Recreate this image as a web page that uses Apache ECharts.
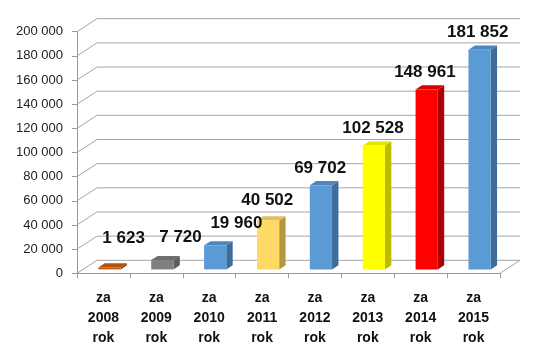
<!DOCTYPE html>
<html>
<head>
<meta charset="utf-8">
<script src="https://cdn.jsdelivr.net/npm/echarts@6/dist/echarts.min.js"></script>
<style>html,body{margin:0;padding:0;background:#fff;}#c{width:544px;height:353px;}</style>
</head>
<body>
<div id="c"></div>
<script>
// ---- data ----
var categories = ['za\n2008\nrok', 'za\n2009\nrok', 'za\n2010\nrok', 'za\n2011\nrok',
                  'za\n2012\nrok', 'za\n2013\nrok', 'za\n2014\nrok', 'za\n2015\nrok'];
var values = [1623, 7720, 19960, 40502, 69702, 102528, 148961, 181852];
var yTicks = [0, 20000, 40000, 60000, 80000, 100000, 120000, 140000, 160000, 180000, 200000];

// ---- styling ----
var faceColors = [
  {front: '#C55A11', side: '#8E400C', top: '#B5520F'},
  {front: '#7F7F7F', side: '#5E5E5E', top: '#6E6E6E'},
  {front: '#5B9BD5', side: '#3E6D9C', top: '#4F86C0'},
  {front: '#FFD966', side: '#B8963F', top: '#E3C056'},
  {front: '#5B9BD5', side: '#3E6D9C', top: '#4F86C0'},
  {front: '#FFFF00', side: '#BDBD00', top: '#E3E300'},
  {front: '#FF0000', side: '#AE0000', top: '#DD0000'},
  {front: '#5B9BD5', side: '#3E6D9C', top: '#4F86C0'}
];
// manual label nudges (dx, dy) as in the original
var labelNudge = [[14, -12], [18, -6], [21, -5], [-1, -3], [-1, 0], [-1, 0], [-2, 0], [-2, 0]];
var DX = 20, DY = -13;       // depth of the 3D box
var F0 = 0.3, F1 = 0.62;     // depth range occupied by bars
var BARW = 0.42;             // bar width as fraction of band

function fmt(v) { return String(v).replace(/\B(?=(\d{3})+(?!\d))/g, ' '); }

function barGeom(api) {
  var i = api.value(0), v = api.value(1);
  var bw = api.size([1, 0])[0];
  var base = api.coord([i, 0]);
  var top = api.coord([i, v]);
  var w = bw * BARW;
  var xl = base[0] - w / 2 + F0 * DX;
  return {
    i: i, v: v, w: w, xl: xl, xr: xl + w,
    yb: base[1] + F0 * DY, yt: top[1] + F0 * DY,
    ddx: (F1 - F0) * DX, ddy: (F1 - F0) * DY
  };
}

var chart = echarts.init(document.getElementById('c'), null, {renderer: 'canvas'});

var option = {
  animation: false,
  backgroundColor: '#fff',
  grid: {left: 77, right: 44, top: 31.7, bottom: 79.7, containLabel: false},
  xAxis: {
    type: 'category',
    data: categories,
    boundaryGap: true,
    axisLine: {show: true, lineStyle: {color: '#999', width: 1}},
    axisTick: {show: true, alignWithLabel: false, length: 5, lineStyle: {color: '#999'}},
    axisLabel: {
      interval: 0, margin: 15, color: '#111',
      fontFamily: 'Liberation Sans', fontWeight: 'bold', fontSize: 14, lineHeight: 20
    },
    splitLine: {show: false}
  },
  yAxis: {
    type: 'value', min: 0, max: 200000, interval: 20000,
    axisLine: {show: true, lineStyle: {color: '#999', width: 1}},
    axisTick: {show: true, length: 5, lineStyle: {color: '#999'}},
    axisLabel: {
      margin: 14, color: '#222', fontFamily: 'Liberation Sans', fontSize: 13,
      formatter: function (v) { return fmt(v); }
    },
    splitLine: {show: false}
  },
  series: [
    {
      type: 'custom',
      name: 'walls',
      silent: true,
      z: 1,
      data: yTicks.map(function (v) { return [0, v]; }),
      renderItem: function (params, api) {
        var v = api.value(1);
        var bw = api.size([1, 0])[0];
        var pL = api.coord([0, v]);
        var pR = api.coord([categories.length - 1, v]);
        var x0 = pL[0] - bw / 2, xR = pR[0] + bw / 2, y = pL[1];
        var children = [{
          type: 'polyline',
          shape: {points: [[x0, y], [x0 + DX, y + DY], [xR + DX, y + DY]]},
          style: {stroke: '#a6a6a6', lineWidth: 1, fill: null}
        }];
        if (v === 0) {
          children.push({
            type: 'line',
            shape: {x1: xR, y1: y, x2: xR + DX, y2: y + DY},
            style: {stroke: '#a6a6a6', lineWidth: 1}
          });
        }
        return {type: 'group', children: children};
      }
    },
    {
      type: 'custom',
      name: 'bars',
      z: 3,
      data: values.map(function (v, i) { return [i, v]; }),
      renderItem: function (params, api) {
        var g = barGeom(api);
        var c = faceColors[g.i];
        return {
          type: 'group',
          children: [
            {type: 'polygon', shape: {points: [[g.xr, g.yb], [g.xr + g.ddx, g.yb + g.ddy], [g.xr + g.ddx, g.yt + g.ddy], [g.xr, g.yt]]},
              style: {fill: c.side}},
            {type: 'polygon', shape: {points: [[g.xl, g.yt], [g.xr, g.yt], [g.xr + g.ddx, g.yt + g.ddy], [g.xl + g.ddx, g.yt + g.ddy]]},
              style: {fill: c.top}},
            {type: 'rect', shape: {x: g.xl, y: g.yt, width: g.w, height: g.yb - g.yt},
              style: {fill: c.front}}
          ]
        };
      }
    },
    {
      type: 'custom',
      name: 'labels',
      z: 5,
      silent: true,
      data: values.map(function (v, i) { return [i, v]; }),
      renderItem: function (params, api) {
        var g = barGeom(api);
        var n = labelNudge[g.i];
        var cx = (g.xl + g.xr) / 2 + g.ddx / 2;
        return {
          type: 'text', x: cx - 3 + n[0], y: g.yt - 17 + n[1],
          style: {text: fmt(g.v), fill: '#111', font: 'bold 17px "Liberation Sans"',
            align: 'center', verticalAlign: 'middle'}
        };
      }
    }
  ]
};
chart.setOption(option);
</script>
</body>
</html>
